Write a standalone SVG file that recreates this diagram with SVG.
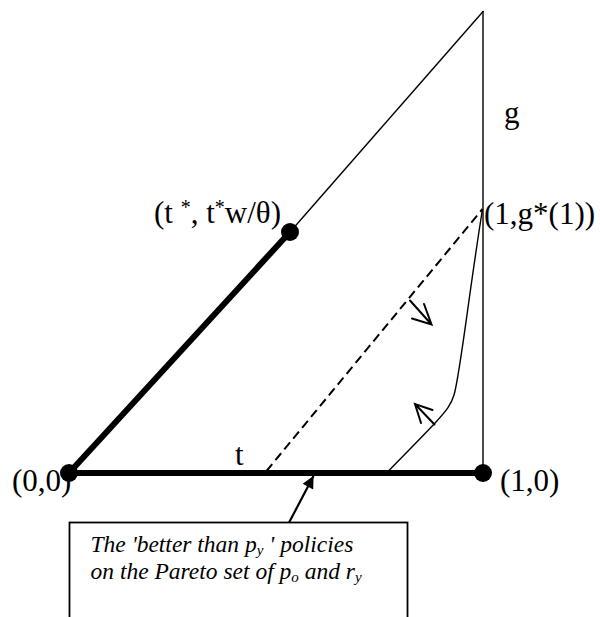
<svg xmlns="http://www.w3.org/2000/svg" width="600" height="617" viewBox="0 0 600 617">
  <defs>
    <style>
      .lbl { font-family: "Liberation Serif", "Times New Roman", serif; font-size: 31px; fill: #000; }
      .box-txt { font-family: "Liberation Serif", "Times New Roman", serif; font-size: 23.5px; font-style: italic; fill: #000; }
      .sub { font-size: 15px; }
      .thin { fill: none; stroke: #000; stroke-width: 1.4; }
      .thick { fill: none; stroke: #000; stroke-width: 6; }
      .dash { fill: none; stroke: #000; stroke-width: 2; stroke-dasharray: 9 5; }
      .dot { fill: #000; }
      .open-arrow { fill: none; stroke: #000; stroke-width: 2; stroke-linecap: round; stroke-linejoin: miter; }
    </style>
    <marker id="solid-head" viewBox="0 0 10 10" refX="10" refY="5" markerWidth="14" markerHeight="12" markerUnits="userSpaceOnUse" orient="auto">
      <path d="M0,0 L10,5 L0,10 Z" fill="#000"/>
    </marker>
  </defs>
  <rect width="600" height="617" fill="#fff"/>

  <g id="connectors">
    <line class="thin" x1="290" y1="232" x2="483.5" y2="11"/>
    <line class="thin" x1="483" y1="11" x2="483" y2="473"/>
    <line class="thick" x1="69" y1="473" x2="290" y2="232"/>
    <line class="thick" x1="69" y1="473" x2="483" y2="473"/>
    <line class="dash" x1="266.5" y1="471" x2="482.5" y2="209"/>
    <path class="thin" d="M388.5,471 C405,454 422,437 436,422 C446,411 451,405 454,395 C460,375 468,300 482.5,209"/>
    <path class="open-arrow" d="M410,300.5 L431.5,324.5 M412,318.5 L431.5,324.5 L424,304"/>
    <path class="open-arrow" d="M434.5,424.5 L415,404 M432.5,410 L415,404 L421,423"/>
    <line x1="289.2" y1="522.3" x2="313.5" y2="476" stroke="#000" stroke-width="2.2" marker-end="url(#solid-head)"/>
  </g>

  <g id="node-origin">
    <circle class="dot" cx="69" cy="473" r="9"/>
    <text class="lbl" x="12" y="491">(0,0)</text>
  </g>
  <g id="node-one-zero">
    <circle class="dot" cx="483" cy="473" r="9"/>
    <text class="lbl" x="500" y="491">(1,0)</text>
  </g>
  <g id="node-tstar">
    <circle class="dot" cx="290" cy="232" r="9"/>
    <text class="lbl" x="154" y="223">(t <tspan font-size="20" dy="-9">*</tspan><tspan dy="9">, t</tspan><tspan font-size="20" dy="-9">*</tspan><tspan dy="9">w/θ)</tspan></text>
  </g>
  <g id="node-g1">
    <text class="lbl" x="484" y="224">(1,g*(1))</text>
  </g>
  <g id="label-g">
    <text class="lbl" x="504" y="123">g</text>
  </g>
  <g id="label-t">
    <text class="lbl" x="235" y="465">t</text>
  </g>
  <g id="note-box">
    <rect x="69.5" y="522.5" width="338" height="110" fill="#fff" stroke="#000" stroke-width="1.8"/>
    <text class="box-txt" x="90.5" y="552">The 'better than p<tspan class="sub" dy="3">y</tspan><tspan dy="-3"> ' policies</tspan></text>
    <text class="box-txt" x="90.5" y="579">on the Pareto set of p<tspan class="sub" dy="3">o</tspan><tspan dy="-3"> and r</tspan><tspan class="sub" dy="3">y</tspan></text>
  </g>
</svg>
